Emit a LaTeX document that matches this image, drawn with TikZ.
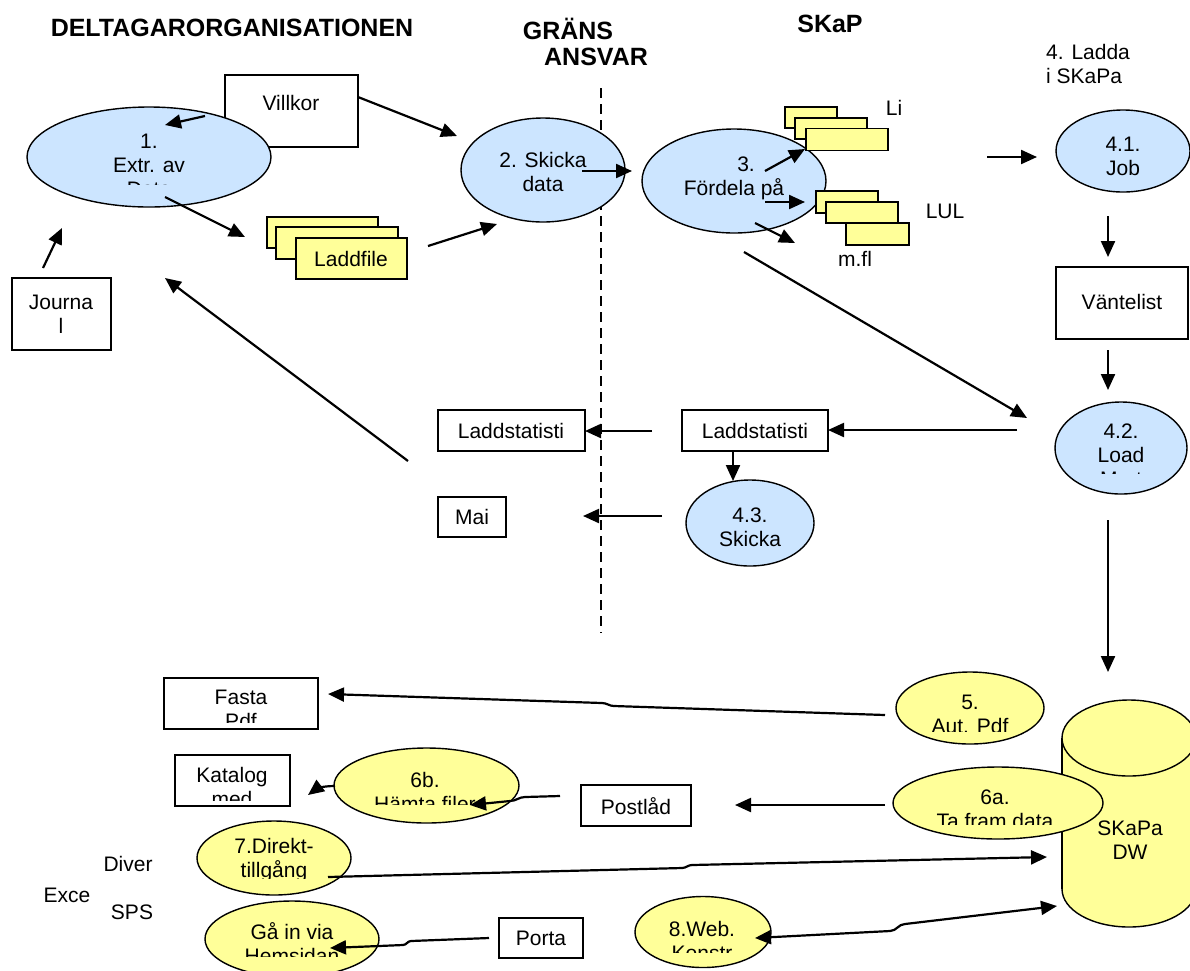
\documentclass[tikz,border=0pt]{standalone}
\usepackage{fontspec}
\setmainfont{Liberation Sans}
\usetikzlibrary{shapes.geometric,arrows.meta}
\definecolor{bluefill}{RGB}{204,229,255}
\definecolor{yellfill}{RGB}{255,255,153}
\tikzset{
  txt/.style={font=\fontsize{21}{24}\selectfont, align=center, inner sep=0pt},
  ttl/.style={font=\fontsize{25}{29}\selectfont\bfseries, inner sep=0pt},
  blueell/.style={ellipse, draw, line width=1.4pt, fill=bluefill, inner sep=0pt},
  yellell/.style={ellipse, draw, line width=1.4pt, fill=yellfill, inner sep=0pt},
  wbox/.style={rectangle, draw, line width=1.4pt, fill=white, inner sep=0pt},
  ybox/.style={rectangle, draw, line width=1.4pt, fill=yellfill, inner sep=0pt},
  arr/.style={-{Triangle[length=16pt,width=14pt]}, line width=2.2pt},
  darr/.style={{Triangle[length=16pt,width=14pt]}-{Triangle[length=16pt,width=14pt]}, line width=2.2pt},
  border/.style={line width=1.5pt, dash pattern=on 10pt off 6pt},
}
\newcommand\cliptext[5]{%
  \begin{scope}
    \clip (#2-130,#3-70) rectangle (#2+130,#4);
    \node[txt] (#1) at (#2,#3) {#5};
  \end{scope}}
\begin{document}
\begin{tikzpicture}[x=1pt,y=-1pt]
\useasboundingbox (0,0) rectangle (1190,970);
\fill[white] (0,0) rectangle (1190,970);

% titles
\node[ttl] (tdelt) at (232,28) {DELTAGARORGANISATIONEN};
\node[ttl] (tgrans) at (568,29) {GRÄNS};
\node[ttl] (tansvar) at (596,57) {ANSVAR};
\node[ttl] (tskap) at (830,24) {SKaP};

% boundary
\coordinate (bt) at (601,88);
\coordinate (bb) at (601,633);
\draw[border] (bt) -- (bb);

% top-left
\node[wbox, minimum width=133pt, minimum height=72pt] (villkor) at (291.5,111) {};
\node[txt] (tvill) at (291,103) {Villkor};
\node[blueell, minimum width=244pt, minimum height=100pt] (e1) at (149,157) {};
\cliptext{t1}{149}{165}{184.5}{1.\\Extr. av\\Data}
\node[ybox, minimum width=111pt, minimum height=31pt] (lf1) at (322.5,232.5) {};
\node[ybox, minimum width=122pt, minimum height=32pt] (lf2) at (337,243) {};
\node[ybox, minimum width=111pt, minimum height=41pt] (lf3) at (351.5,258.5) {};
\node[txt] (tlf) at (351,259) {Laddfile};
\node[wbox, minimum width=99pt, minimum height=72pt] (journal) at (61.5,314) {};
\node[txt] (tjour) at (61,314.5) {Journa\\l};

% middle top
\node[blueell, minimum width=164pt, minimum height=104pt] (e2) at (543,170) {};
\node[txt] (t2) at (543,172) {2. Skicka\\data};
\node[blueell, minimum width=184pt, minimum height=104pt] (e3) at (734,181) {};
\node[txt] (t3) at (734,178.5) {\hspace*{24pt}3.\\Fördela på};
\node[ybox, minimum width=52pt, minimum height=21pt] (li1) at (811,117.5) {};
\node[ybox, minimum width=72pt, minimum height=21pt] (li2) at (831,128.5) {};
\node[ybox, minimum width=82pt, minimum height=22pt] (li3) at (847,139.5) {};
\node[txt] (tli) at (894,108) {Li};
\node[ybox, minimum width=62pt, minimum height=22pt] (lu1) at (847,202) {};
\node[ybox, minimum width=72pt, minimum height=21pt] (lu2) at (862,212.5) {};
\node[ybox, minimum width=63pt, minimum height=22pt] (lu3) at (877.5,234) {};
\node[txt] (tlul) at (945,211) {LUL};
\node[txt] (tmfl) at (855,259) {m.fl};

% right column
\node[txt, align=left, anchor=west] (tladda) at (1046,64) {4. Ladda\\i SKaPa};
\node[blueell, minimum width=134pt, minimum height=82pt] (e41) at (1123,151) {};
\node[txt] (t41) at (1123,156) {4.1.\\Job};
\node[wbox, minimum width=132pt, minimum height=72pt] (vl) at (1122,303) {};
\node[txt] (tvl) at (1122,302) {Väntelist};
\node[blueell, minimum width=132pt, minimum height=92pt] (e42) at (1121,448) {};
\cliptext{t42}{1121}{455}{473.5}{4.2.\\Load\\Mart}

% middle row
\node[wbox, minimum width=147pt, minimum height=41pt] (ls1) at (511.5,430.5) {};
\node[txt] (tls1) at (511,431) {Laddstatisti};
\node[wbox, minimum width=146pt, minimum height=41pt] (ls2) at (755,430.5) {};
\node[txt] (tls2) at (755,431) {Laddstatisti};
\node[blueell, minimum width=128pt, minimum height=86pt] (e43) at (750,523) {};
\node[txt] (t43) at (750,527) {4.3.\\Skicka};
\node[wbox, minimum width=68pt, minimum height=40pt] (mai) at (472,517) {};
\node[txt] (tmai) at (472,517) {Mai};

% SKaPa DW cylinder
\draw[line width=1.4pt, fill=yellfill] (1129,889) ellipse [x radius=67, y radius=38];
\fill[yellfill] (1062,738) rectangle (1196,889);
\draw[line width=1.4pt] (1062,738) -- (1062,889) (1196,738) -- (1196,889);
\draw[line width=1.4pt, fill=yellfill] (1129,738) ellipse [x radius=67, y radius=38];
\coordinate (dw) at (1129,830);
\node[txt] (tdw) at (1130,840) {SKaPa\\DW};

% bottom
\node[wbox, minimum width=154pt, minimum height=51pt] (fasta) at (241,703.5) {};
\cliptext{tfasta}{241}{709}{722}{Fasta\\Pdf}
\node[wbox, minimum width=115pt, minimum height=51pt] (kat) at (232.5,780.5) {};
\cliptext{tkat}{232}{787}{800}{Katalog\\med}
\node[yellell, minimum width=185pt, minimum height=75pt] (e6b) at (426.5,785.5) {};
\cliptext{t6b}{425}{792}{804}{6b.\\Hämta filer}
\node[wbox, minimum width=110pt, minimum height=41pt] (post) at (636,805.5) {};
\node[txt] (tpost) at (636,806) {Postlåd};
\node[yellell, minimum width=148pt, minimum height=72pt] (e5) at (970,708) {};
\cliptext{t5}{970}{714}{731}{5.\\Aut. Pdf}
\node[yellell, minimum width=210pt, minimum height=72pt] (e6a) at (998,803) {};
\cliptext{t6a}{995}{809}{824}{6a.\\Ta fram data}
\node[yellell, minimum width=154pt, minimum height=74pt] (e7) at (274,858) {};
\cliptext{t7}{274}{860}{878}{7.Direkt-\\tillgång}
\node[yellell, minimum width=174pt, minimum height=76pt] (ega) at (292,939) {};
\cliptext{tga}{292}{943}{956}{Gå in via\\Hemsidan}
\node[wbox, minimum width=84pt, minimum height=40pt] (porta) at (541,938) {};
\node[txt] (tporta) at (541,938) {Porta};
\node[yellell, minimum width=136pt, minimum height=71pt] (e8) at (703,932) {};
\cliptext{t8}{702}{941}{952}{8.Web.\\Konstr}
\node[txt] (tdiver) at (128,864) {Diver};
\node[txt] (texce) at (67,895) {Exce};
\node[txt] (tsps) at (132,912) {SPS};

% connector end points
\coordinate (a1s) at (205,116); \coordinate (a1e) at (165,125);
\coordinate (a2s) at (358,97);  \coordinate (a2e) at (457,136);
\coordinate (a3s) at (165,197); \coordinate (a3e) at (245,237);
\coordinate (a4s) at (428,246); \coordinate (a4e) at (497,224);
\coordinate (a5s) at (43,268);  \coordinate (a5e) at (62,228);
\coordinate (a6s) at (408,461); \coordinate (a6e) at (165,278);
\coordinate (a7s) at (582,171); \coordinate (a7e) at (632,171);
\coordinate (a8s) at (765,171); \coordinate (a8e) at (805,149);
\coordinate (a9s) at (765,202); \coordinate (a9e) at (805,202);
\coordinate (a10s) at (755,223); \coordinate (a10e) at (795,243);
\coordinate (a11s) at (744,252); \coordinate (a11e) at (1027,418);
\coordinate (a12s) at (987,157); \coordinate (a12e) at (1037,157);
\coordinate (a13s) at (1108,216); \coordinate (a13e) at (1108,257);
\coordinate (a14s) at (1108,350); \coordinate (a14e) at (1108,390);
\coordinate (a15s) at (1017,430); \coordinate (a15e) at (828,430);
\coordinate (a16s) at (652,431); \coordinate (a16e) at (585,431);
\coordinate (a17s) at (733,451); \coordinate (a17e) at (733,481);
\coordinate (a18s) at (662,516); \coordinate (a18e) at (583,516);
\coordinate (a19s) at (1108,520); \coordinate (a19e) at (1108,672);
\coordinate (a20s) at (885,715); \coordinate (a20k) at (614,706); \coordinate (a20l) at (602,703); \coordinate (a20e) at (328,694);
\coordinate (a21s) at (885,805); \coordinate (a21e) at (735,805);
\coordinate (a22s) at (560,796); \coordinate (a22k) at (525,797); \coordinate (a22l) at (510,801); \coordinate (a22e) at (470,805);
\coordinate (a23s) at (335,786); \coordinate (a23e) at (308,795);
\coordinate (a24s) at (328,877); \coordinate (a24k) at (682,868); \coordinate (a24l) at (692,865); \coordinate (a24e) at (1047,857);
\coordinate (a25s) at (489,938); \coordinate (a25k) at (411,941); \coordinate (a25l) at (403,945); \coordinate (a25e) at (330,948);
\coordinate (a26s) at (755,938); \coordinate (a26k) at (890,931); \coordinate (a26l) at (905,924); \coordinate (a26e) at (1057,906);

% connectors
\draw[arr] (a1s) -- (a1e);
\draw[arr] (a2s) -- (a2e);
\draw[arr] (a3s) -- (a3e);
\draw[arr] (a4s) -- (a4e);
\draw[arr] (a5s) -- (a5e);
\draw[arr] (a6s) -- (a6e);
\draw[arr] (a7s) -- (a7e);
\draw[arr] (a8s) -- (a8e);
\draw[arr] (a9s) -- (a9e);
\draw[arr] (a10s) -- (a10e);
\draw[arr] (a11s) -- (a11e);
\draw[arr] (a12s) -- (a12e);
\draw[arr] (a13s) -- (a13e);
\draw[arr] (a14s) -- (a14e);
\draw[arr] (a15s) -- (a15e);
\draw[arr] (a16s) -- (a16e);
\draw[arr] (a17s) -- (a17e);
\draw[arr] (a18s) -- (a18e);
\draw[arr] (a19s) -- (a19e);
\draw[arr] (a20s) -- (a20k) to[out=180,in=0] (a20l) -- (a20e);
\draw[arr] (a21s) -- (a21e);
\draw[arr] (a22s) -- (a22k) to[out=180,in=0] (a22l) -- (a22e);
\draw[arr] (a23s) .. controls (322,786) and (316,789) .. (a23e);
\draw[arr] (a24s) -- (a24k) to[out=0,in=180] (a24l) -- (a24e);
\draw[arr] (a25s) -- (a25k) to[out=180,in=0] (a25l) -- (a25e);
\draw[darr] (a26s) -- (a26k) to[out=0,in=180] (a26l) -- (a26e);
\end{tikzpicture}
\end{document}
